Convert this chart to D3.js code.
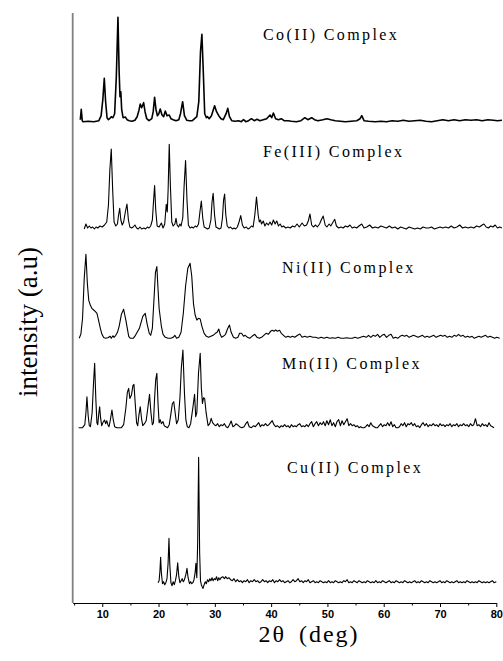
<!DOCTYPE html>
<html><head><meta charset="utf-8">
<script src="https://cdn.jsdelivr.net/npm/d3@7"></script>
<style>body{margin:0;background:#fff}svg{display:block}</style>
</head><body>
<svg id="c" width="503" height="661"></svg>
<script>
// ---- DATA ----
const seriesNames = ["Co(II) Complex","Fe(III) Complex","Ni(II) Complex","Mn(II) Complex","Cu(II) Complex"];
const offsets = [481.3, 373, 264.7, 175.3, 20.3]; // stacking offsets (a.u.)
const xTicksMajor = [10,20,30,40,50,60,70,80];
const xTicksMinor = [5,15,25,35,45,55,65,75];

const coData = [[6.1,2],[6.27,12.4],[6.45,1],[6.6,0],[7.5,0.5],[8.5,0],[9.4,1],[9.8,6],[10.1,22],[10.36,43.4],[10.6,20],[10.85,4],[11.1,2],[11.3,3],[11.6,5],[11.9,4],[12.2,8],[12.5,45],[12.79,104.4],[13.0,50],[13.15,25],[13.3,30],[13.45,12],[13.7,4],[14.1,4.7],[14.4,2],[14.8,1],[15.3,0.5],[15.8,1.5],[16.2,5],[16.5,11],[16.75,17.7],[17.0,14],[17.35,19],[17.6,10],[17.9,3],[18.3,1],[18.8,3],[19.05,10],[19.3,24.4],[19.55,12],[19.8,6],[20.05,8],[20.3,12.7],[20.6,7],[20.9,5],[21.2,10.7],[21.5,6],[21.9,6.7],[22.2,3],[22.6,2],[23.1,1],[23.6,2],[23.9,8],[24.28,20],[24.6,6],[25.0,1.5],[25.5,1],[26.0,1],[26.4,3],[26.8,5],[27.15,20],[27.45,70],[27.7,87.4],[27.95,50],[28.2,8],[28.5,4],[28.7,5],[29.0,3],[29.4,6],[29.96,16],[30.3,10],[30.7,6],[31.1,3],[31.5,2],[32.0,8],[32.3,13.4],[32.6,5],[33.0,1],[33.6,0.5],[34.2,1],[34.7,0],[35.1,2],[35.5,0],[36.0,1],[36.5,3],[37.0,1],[37.5,2.5],[38.0,1],[38.6,2],[39.2,3],[39.8,6.7],[40.1,4],[40.4,8.7],[40.8,3],[41.3,2],[41.8,3],[42.3,1],[43.0,1],[43.6,0.5],[44.5,0],[45.3,1],[46.0,4],[46.5,2],[47.2,4],[47.7,2],[48.3,1],[49.2,2],[49.9,3],[50.6,2],[51.4,1],[52.3,0.5],[53.2,0],[54.2,0.5],[55.2,1],[55.8,3],[56.1,6],[56.5,1],[57.3,0.5],[58.5,0],[59.5,0.5],[60.5,0],[61.5,1],[62.5,0.5],[63.5,1.5],[64.5,0.5],[65.5,1],[66.5,1.5],[67.5,0.5],[68.5,0],[69.5,1],[70.5,2],[71.5,1],[72.5,2],[73.5,1],[74.5,2],[75.5,1.5],[76.5,2],[77.5,1],[78.5,2],[79.5,1.5],[80.2,1],[81,1.5]];

const feData = [[6.8,1],[7.1,6],[7.4,2],[7.7,4],[8.0,2],[8.3,3],[8.6,1],[8.9,3],[9.2,2],[9.6,4],[10.0,3],[10.4,5],[10.8,8],[11.1,25],[11.35,60],[11.6,81],[11.85,40],[12.1,8],[12.4,4],[12.7,6],[12.9,15],[13.1,21.7],[13.3,10],[13.55,5],[13.8,8],[14.1,18],[14.39,26],[14.65,10],[14.9,3],[15.2,2],[15.5,3],[15.8,5],[16.1,2],[16.4,1],[16.7,3],[17.0,1],[17.4,2],[17.7,1],[18.0,3],[18.3,2],[18.6,4],[18.9,10],[19.1,28],[19.3,44.4],[19.5,20],[19.75,4],[20.1,3],[20.5,7],[20.8,2],[21.1,6],[21.37,25.7],[21.55,18],[21.7,40],[21.9,85.7],[22.1,45],[22.35,8],[22.6,4],[22.9,6],[23.1,11.7],[23.3,5],[23.55,3],[23.8,6],[24.0,4],[24.3,12],[24.55,45],[24.8,69.4],[25.05,30],[25.3,5],[25.6,2],[25.9,3],[26.2,2],[26.5,4],[26.8,3],[27.1,6],[27.35,18],[27.6,29],[27.85,12],[28.1,3],[28.4,2],[28.7,1],[29.0,2],[29.3,10],[29.5,28],[29.7,36.7],[29.95,15],[30.2,3],[30.5,2],[30.8,1],[31.1,2],[31.35,12],[31.55,30],[31.74,36],[31.95,15],[32.2,4],[32.5,2],[32.8,3],[33.1,1],[33.4,2],[33.7,1],[34.0,3],[34.3,8],[34.6,14.4],[34.9,5],[35.2,2],[35.6,3],[35.9,1],[36.2,2],[36.5,4],[36.8,3],[37.1,15],[37.4,33],[37.7,15],[37.9,8],[38.1,10],[38.3,6],[38.6,9],[38.9,4],[39.2,7],[39.5,5],[39.8,8],[40.1,5],[40.4,10],[40.7,6],[41.0,9],[41.3,4],[41.6,6],[41.9,3],[42.2,4],[42.6,2],[43.0,3],[43.4,2],[43.8,4],[44.2,3],[44.6,6],[45.0,3],[45.5,7],[45.9,4],[46.3,5],[46.6,9],[46.9,16],[47.2,5],[47.5,3],[47.9,5],[48.2,3],[48.6,6],[48.9,10],[49.25,14],[49.6,5],[49.9,3],[50.3,6],[50.6,4],[51.0,8],[51.3,10.7],[51.6,4],[52.0,2],[52.4,3],[52.8,2],[53.2,4],[53.6,3],[54.0,5],[54.4,2],[54.8,3],[55.2,2],[55.6,4],[56.1,6],[56.5,2],[57.0,3],[57.5,5],[58.0,2],[58.5,3],[59.0,2],[59.5,4],[60.0,3],[60.5,2],[61.0,4],[61.5,2],[62.0,3],[62.5,1],[63.0,3],[63.5,2],[64.0,1],[64.5,3],[65.0,2],[65.5,1],[66.0,2],[66.5,1],[67.0,3],[67.5,2],[68.0,2],[68.5,3],[69.0,1],[69.5,2],[70.0,3],[70.5,2],[71.0,3],[71.5,2],[72.0,4],[72.5,2],[73.0,3],[73.5,5],[74.0,2],[74.5,3],[75.0,2],[75.5,3],[76.0,2],[76.5,4],[77.0,3],[77.5,5],[77.8,6],[78.2,3],[78.6,2],[79.0,4],[79.4,3],[79.8,5],[80.2,2],[80.6,3],[81.0,2]];

const niData = [[5.9,0],[6.2,4],[6.5,20],[6.8,60],[7.1,84],[7.35,55],[7.6,38],[7.87,33.3],[8.15,30],[8.47,28.3],[8.75,27],[9.06,25],[9.35,18],[9.66,10],[9.95,4],[10.25,0.7],[10.6,0],[11.0,0.5],[11.4,2],[11.6,0],[11.9,2.5],[12.1,1],[12.4,3],[12.7,6],[13.0,12],[13.4,24],[13.8,29],[14.2,18],[14.7,2],[15.0,0],[15.5,0],[15.9,3],[16.3,7],[16.6,10],[16.9,16],[17.2,22],[17.64,25],[17.95,15],[18.35,5],[18.6,3],[18.9,10],[19.2,40],[19.45,66],[19.7,71.7],[19.9,50],[20.1,30],[20.5,12],[20.8,4],[21.2,1],[21.7,0],[22.2,0],[22.6,1],[22.9,3],[23.2,0],[23.6,1],[24.0,6],[24.4,25],[24.8,52],[25.2,70],[25.6,75],[25.9,62],[26.2,35],[26.5,23.3],[26.8,18.3],[27.1,20],[27.4,19.3],[27.7,12],[28.1,5],[28.5,2],[28.9,1],[29.3,2],[29.7,3],[30.1,5],[30.4,6],[30.7,9.3],[30.95,4],[31.2,1],[31.5,2],[31.9,4],[32.3,10],[32.6,13.3],[32.9,6],[33.3,1],[33.7,0],[34.1,1],[34.4,5],[34.75,5],[35.1,2],[35.4,3],[35.8,1],[36.2,0],[36.6,2],[37.1,4],[37.5,1],[37.9,0],[38.3,1],[38.7,3],[39.1,5],[39.5,4],[39.9,7],[40.2,8],[40.5,7],[40.8,8.3],[41.1,7],[41.5,8],[41.8,5],[42.2,3],[42.6,1],[43.0,2],[43.4,1],[43.8,2],[44.2,1],[44.7,3],[45.1,4.3],[45.5,1],[46.0,2],[46.4,1],[46.9,2],[47.4,1],[47.9,1],[48.4,0],[48.9,1],[49.4,0],[49.9,1],[50.4,0],[50.9,0.5],[51.4,0],[51.9,1],[52.4,0],[52.9,0],[53.4,0.5],[53.9,0],[54.4,0],[54.9,1],[55.4,0],[55.9,1],[56.4,2],[56.9,1],[57.3,3],[57.7,1],[58.1,3],[58.5,2],[58.9,4],[59.3,1],[59.7,3],[60.1,4],[60.5,1],[60.9,3],[61.3,4],[61.7,0],[62.1,1],[62.5,0],[62.9,2],[63.3,3],[63.7,2],[64.1,3],[64.5,1],[64.9,2],[65.3,3],[65.7,2],[66.1,1],[66.5,2],[66.9,3],[67.3,1],[67.7,2],[68.1,1],[68.5,2],[68.9,3],[69.3,1],[69.7,2],[70.1,3],[70.5,2],[70.9,3],[71.3,1],[71.7,2],[72.1,1],[72.5,3],[72.9,2],[73.3,4],[73.7,2],[74.1,3],[74.5,1],[74.9,2],[75.3,1],[75.7,2],[76.1,0],[76.5,1],[76.9,2],[77.3,1],[77.7,2],[78.1,3],[78.5,1],[78.9,2],[79.3,1],[79.7,0],[80.1,1],[80.6,0]];

const mnData = [[5.8,0],[6.5,0],[6.9,3],[7.1,15],[7.28,31],[7.5,12],[7.7,2],[7.9,1],[8.2,15],[8.45,45],[8.65,64.4],[8.85,30],[9.05,5],[9.2,3],[9.4,15],[9.54,21],[9.7,10],[9.9,2],[10.1,5],[10.4,7.7],[10.6,4],[10.8,7],[11.0,3],[11.2,1],[11.45,8],[11.72,17.7],[11.95,8],[12.2,1],[12.6,0],[13.0,0],[13.4,0],[13.8,3],[14.2,20],[14.45,35],[14.69,39.3],[14.9,29.3],[15.2,33],[15.45,42],[15.63,43.3],[15.85,25],[16.1,5],[16.3,2],[16.5,12],[16.75,21],[17.0,8],[17.2,2],[17.5,4],[17.8,7],[18.1,20],[18.4,33.3],[18.65,15],[18.9,3],[19.1,5],[19.3,30],[19.5,48],[19.7,54.4],[19.9,25],[20.1,5],[20.3,8],[20.5,4],[20.8,6],[21.0,2],[21.3,1],[21.6,0],[21.9,3],[22.2,14],[22.45,24],[22.7,26],[22.95,15],[23.2,4],[23.5,8],[23.8,30],[24.05,60],[24.33,77.7],[24.6,35],[24.85,8],[25.1,1],[25.4,0],[25.7,4],[26.1,20],[26.4,33.3],[26.6,11],[26.8,15],[27.1,55],[27.4,74.4],[27.6,40],[27.8,24.3],[28.0,30],[28.2,29],[28.45,15],[28.8,2],[29.1,4],[29.35,9.3],[29.6,5],[29.9,3],[30.2,2],[30.5,4],[30.8,1],[31.1,3],[31.4,2],[31.7,4],[32.0,1],[32.3,0],[32.6,3],[32.9,6.7],[33.2,1],[33.5,2],[33.75,4],[34.0,3],[34.4,1],[34.8,0],[35.2,1],[35.5,4],[35.8,6],[36.1,1],[36.5,0],[36.9,2],[37.2,1],[37.5,3],[37.8,5],[38.1,1],[38.4,3],[38.7,2],[39.0,4],[39.3,2],[39.6,3],[39.9,5],[40.2,7],[40.5,3],[40.8,1],[41.1,2],[41.5,0],[41.8,2],[42.1,1],[42.4,3],[42.7,1],[43.0,2],[43.3,0],[43.6,3],[43.9,1],[44.2,2],[44.5,1],[44.8,3],[45.1,4],[45.4,1],[45.7,2],[46.0,1],[46.3,3],[46.6,1],[46.9,4],[47.2,6],[47.5,1],[47.8,4],[48.1,6],[48.4,2],[48.7,5],[49.0,3],[49.3,6],[49.6,2],[49.9,7],[50.2,3],[50.5,8],[50.8,2],[51.1,5],[51.4,1],[51.7,6],[52.0,8],[52.3,2],[52.6,7],[52.9,3],[53.2,6],[53.5,9],[53.8,2],[54.1,4],[54.4,2],[54.7,3],[55.0,1],[55.3,2],[55.6,0],[55.9,1],[56.2,0],[56.5,0],[56.8,1],[57.1,3],[57.4,1],[57.7,5],[58.0,2],[58.3,1],[58.6,0],[58.9,0],[59.2,2],[59.5,4],[59.8,1],[60.1,3],[60.4,2],[60.7,5],[61.0,2],[61.3,6],[61.6,1],[61.9,3],[62.2,0],[62.5,0],[62.8,1],[63.1,4],[63.4,2],[63.7,5],[64.0,1],[64.3,4],[64.6,3],[64.9,5],[65.2,2],[65.5,4],[65.8,1],[66.1,2],[66.4,0],[66.7,3],[67.0,5],[67.3,2],[67.6,4],[67.9,1],[68.2,3],[68.5,2],[68.8,4],[69.1,2],[69.4,3],[69.7,1],[70.0,4],[70.3,2],[70.6,3],[70.9,1],[71.2,3],[71.5,2],[71.8,4],[72.1,1],[72.4,3],[72.7,2],[73.0,4],[73.3,1],[73.6,3],[73.9,2],[74.2,4],[74.5,2],[74.8,3],[75.1,1],[75.4,4],[75.7,2],[76.0,3],[76.3,9],[76.6,2],[76.9,3],[77.2,1],[77.5,4],[77.8,2],[78.1,3],[78.4,1],[78.7,5],[79.0,2],[79.3,1],[79.6,0]];

const cuData = [[19.9,0],[20.1,2],[20.25,12],[20.37,25.3],[20.5,10],[20.7,-1],[20.9,1],[21.1,-2],[21.3,0],[21.5,4],[21.7,20],[21.85,44.3],[22.0,18],[22.2,0],[22.4,-3],[22.6,1],[22.8,-2],[23.0,2],[23.2,8],[23.4,20],[23.6,6],[23.8,0],[24.0,2],[24.2,4],[24.4,1],[24.6,3],[24.85,8],[25.05,14.3],[25.25,5],[25.5,-1],[25.7,1],[25.9,-1],[26.1,0],[26.3,3],[26.5,10],[26.64,19.3],[26.8,5],[26.95,40],[27.12,125.3],[27.3,30],[27.45,2],[27.6,-2],[27.75,-4],[27.9,-5.7],[28.1,-2],[28.3,1],[28.5,-1],[28.7,3],[28.9,1],[29.1,4],[29.3,2],[29.5,5],[29.7,2],[29.9,4],[30.1,3],[30.3,6],[30.5,2],[30.7,5],[30.9,3],[31.1,5],[31.4,6],[31.7,4],[31.9,6],[32.2,4],[32.5,5],[32.8,3],[33.1,2],[33.4,4],[33.7,1],[34.0,3],[34.3,1],[34.6,2],[34.9,0],[35.2,2],[35.5,1],[35.8,3],[36.1,0],[36.4,2],[36.7,1],[37.0,3],[37.3,1],[37.6,2],[37.9,0],[38.2,1],[38.5,3],[38.8,1],[39.1,2],[39.4,0],[39.7,2],[40.0,1],[40.3,3],[40.6,0],[40.9,2],[41.2,1],[41.5,3],[41.8,1],[42.1,2],[42.4,0],[42.7,1],[43.0,2],[43.3,0],[43.6,1],[43.9,3],[44.2,1],[44.5,2],[44.8,4],[45.1,1],[45.4,2],[45.7,0],[46.0,2],[46.3,1],[46.6,3],[46.9,0],[47.2,1],[47.5,2],[47.8,0],[48.1,1],[48.4,0],[48.7,2],[49.0,1],[49.3,0],[49.6,1],[49.9,0],[50.2,2],[50.5,0],[50.8,1],[51.1,0],[51.4,2],[51.7,1],[52.0,0],[52.3,1],[52.6,0],[52.9,2],[53.2,1],[53.5,3],[53.8,0],[54.1,1],[54.4,0],[54.7,2],[55.0,1],[55.3,0],[55.6,2],[55.9,1],[56.2,0],[56.5,1],[56.8,0],[57.1,2],[57.4,1],[57.7,0],[58.0,1],[58.3,0],[58.6,2],[58.9,0],[59.2,1],[59.5,0],[59.8,2],[60.1,1],[60.4,0],[60.7,1],[61.0,2],[61.3,0],[61.6,1],[61.9,0],[62.2,2],[62.5,1],[62.8,0],[63.1,1],[63.4,0],[63.7,2],[64.0,1],[64.3,0],[64.6,1],[64.9,0],[65.2,1],[65.5,2],[65.8,0],[66.1,1],[66.4,0],[66.7,2],[67.0,1],[67.3,0],[67.6,1],[67.9,0],[68.2,2],[68.5,1],[68.8,0],[69.1,1],[69.4,0],[69.7,1],[70.0,2],[70.3,0],[70.6,1],[70.9,0],[71.2,2],[71.5,1],[71.8,0],[72.1,1],[72.4,0],[72.7,1],[73.0,2],[73.3,0],[73.6,1],[73.9,0],[74.2,1],[74.5,0],[74.8,2],[75.1,1],[75.4,0],[75.7,1],[76.0,0],[76.3,1],[76.6,0],[76.9,2],[77.2,1],[77.5,0],[77.8,1],[78.1,0],[78.4,1],[78.7,0],[79.0,1],[79.3,2],[79.6,0],[80.0,1]];

const allData = [coData, feData, niData, mnData, cuData];

// ---- LAYOUT ----
const svg = d3.select("#c");
const x = d3.scaleLinear().domain([4.75, 80]).range([72.7, 496.3]);
const y = d3.scaleLinear().domain([0, 590]).range([603, 13]);

const strokeW = [1.6, 1.1, 1.1, 1.1, 1.1];
const labelPos = [[263, 39.5],[263, 156.7],[282, 273.3],[282, 369.3],[287, 472.7]];

const line = d3.line().x(d => x(d[0])).y(d => y(d[1]));

allData.forEach((data, i) => {
  svg.append("path")
    .datum(data.map(d => [d[0], d[1] + offsets[i]]))
    .attr("fill", "none").attr("stroke", "#000")
    .attr("stroke-width", strokeW[i]).attr("stroke-linejoin", "round")
    .attr("d", line);
  svg.append("text")
    .attr("x", labelPos[i][0]).attr("y", labelPos[i][1])
    .attr("font-family", "'Liberation Serif','Times New Roman',serif")
    .attr("font-size", 16).attr("letter-spacing", 2.4)
    .text(seriesNames[i]);
});

// left axis (gray)
svg.append("line").attr("x1", 72.7).attr("x2", 72.7).attr("y1", 13).attr("y2", 603)
  .attr("stroke", "#808080").attr("stroke-width", 1.8);

// bottom axis
const gx = svg.append("g").attr("transform", "translate(0,603)");
gx.call(d3.axisBottom(x).tickValues(xTicksMajor).tickSize(4).tickSizeOuter(0).tickPadding(3).tickFormat(d3.format("d")));
gx.select(".domain").attr("stroke", "#000").attr("stroke-width", 1.2);
gx.selectAll(".tick line").attr("stroke", "#000");
gx.selectAll(".tick text").attr("font-family", "'Liberation Sans',Arial,sans-serif")
  .attr("font-weight", "bold").attr("font-size", 11).attr("fill", "#000");
const gm = svg.append("g").attr("transform", "translate(0,603)");
gm.call(d3.axisBottom(x).tickValues(xTicksMinor).tickSize(2.5).tickFormat(""));
gm.select(".domain").remove();
gm.selectAll(".tick line").attr("stroke", "#000");

// axis titles
svg.append("text").attr("x", 309).attr("y", 642).attr("text-anchor", "middle")
  .attr("font-family", "'Liberation Serif','Times New Roman',serif")
  .attr("font-size", 24).attr("letter-spacing", 2).attr("word-spacing", 5)
  .text("2θ (deg)");
svg.append("text").attr("transform", "translate(37,322) rotate(-90)")
  .attr("text-anchor", "middle")
  .attr("font-family", "'Liberation Serif','Times New Roman',serif")
  .attr("font-size", 27)
  .text("intensity (a.u)");
</script>
</body></html>
